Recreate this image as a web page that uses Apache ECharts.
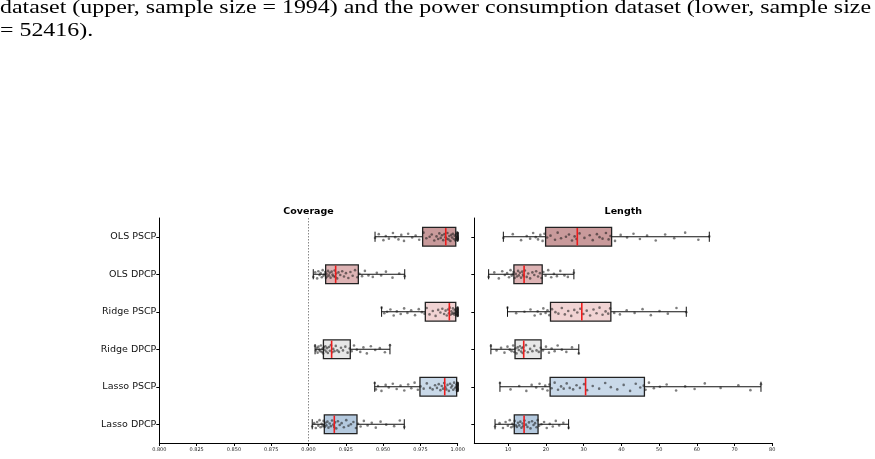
<!DOCTYPE html>
<html>
<head>
<meta charset="utf-8">
<script src="https://cdn.jsdelivr.net/npm/echarts@6/dist/echarts.min.js"></script>
<style>
html,body{margin:0;padding:0;background:#fff;}
#chart{width:875px;height:459px;}
</style>
</head>
<body>
<div id="chart"></div>
<script>
// ---------------- DATA ----------------
const CAPTION = [
  "dataset (upper, sample size = 1994) and the power consumption dataset (lower, sample size",
  "= 52416)."
];
const CATEGORIES = ["OLS PSCP", "OLS DPCP", "Ridge PSCP", "Ridge DPCP", "Lasso PSCP", "Lasso DPCP"];
const PANEL_TITLES = ["Coverage", "Length"];
const COVERAGE_TICKS = [0.800, 0.825, 0.850, 0.875, 0.900, 0.925, 0.950, 0.975, 1.000];
const LENGTH_TICKS = [10, 20, 30, 40, 50, 60, 70, 80];
const TARGET_COVERAGE = 0.9;

// box stats: [min, q1, median, q3, max]
const COVERAGE_BOXES = [
  [0.9446, 0.9765, 0.9920, 0.9987, 1.0000],
  [0.9032, 0.9115, 0.9182, 0.9334, 0.9645],
  [0.9490, 0.9783, 0.9944, 0.9987, 1.0000],
  [0.9044, 0.9100, 0.9155, 0.9280, 0.9546],
  [0.9444, 0.9747, 0.9913, 0.9993, 1.0000],
  [0.9025, 0.9106, 0.9173, 0.9325, 0.9642]
];
const LENGTH_BOXES = [
  [8.7, 19.9, 28.3, 37.4, 63.3],
  [4.8, 11.5, 14.2, 19.0, 27.4],
  [9.8, 21.2, 29.5, 37.2, 57.2],
  [5.4, 11.8, 14.1, 18.7, 28.7],
  [7.8, 21.1, 30.5, 46.1, 77.0],
  [6.5, 11.6, 14.2, 17.9, 26.0]
];

// individual observations (jittered dots)
const COV_OLS_PSCP = [0.9446,0.9471,0.9502,0.9518,0.9539,0.9566,0.9581,0.9603,0.9622,0.9640,0.9668,0.9695,0.9718,0.9742,
  0.9771,0.9790,0.9812,0.9826,0.9843,0.9858,0.9869,0.9877,0.9886,0.9895,0.9903,0.9911,0.9918,
  0.9925,0.9931,0.9938,0.9944,0.9951,0.9957,0.9962,0.9968,0.9974,0.9979,0.9984,
  0.9989,0.9992,0.9995,0.9997,0.9999,1.0,1.0,1.0,1.0,1.0,1.0,1.0,1.0,1.0,1.0,1.0,1.0];
const COV_OLS_DPCP = [0.9032,0.9045,0.9058,0.9066,0.9074,0.9081,0.9089,0.9095,0.9101,0.9108,0.9112,
  0.9117,0.9121,0.9126,0.9131,0.9137,0.9142,0.9148,0.9155,0.9161,0.9168,0.9175,0.9180,
  0.9185,0.9192,0.9201,0.9213,0.9226,0.9238,0.9251,0.9267,0.9281,0.9296,0.9312,0.9328,
  0.9341,0.9359,0.9378,0.9402,0.9431,0.9458,0.9487,0.9519,0.9563,0.9608,0.9645];
const COV_RIDGE_PSCP = [0.9490,0.9508,0.9527,0.9549,0.9571,0.9592,0.9618,0.9641,0.9663,0.9688,0.9714,0.9739,0.9760,0.9778,
  0.9792,0.9811,0.9833,0.9852,0.9869,0.9884,0.9897,0.9909,0.9919,0.9927,0.9935,0.9941,
  0.9947,0.9952,0.9958,0.9963,0.9968,0.9972,0.9976,0.9980,0.9984,0.9986,
  0.9989,0.9992,0.9995,0.9997,0.9999,1.0,1.0,1.0,1.0,1.0,1.0,1.0,1.0,1.0,1.0,1.0,1.0];
const COV_RIDGE_DPCP = [0.9044,0.9050,0.9056,0.9061,0.9067,0.9072,0.9078,0.9083,0.9089,0.9094,0.9098,
  0.9103,0.9108,0.9113,0.9119,0.9124,0.9130,0.9137,0.9143,0.9150,
  0.9159,0.9166,0.9174,0.9183,0.9193,0.9204,0.9218,0.9231,0.9247,0.9262,0.9276,
  0.9289,0.9305,0.9324,0.9347,0.9368,0.9391,0.9418,0.9447,0.9478,0.9512,0.9546];
const COV_LASSO_PSCP = [0.9444,0.9452,0.9466,0.9489,0.9517,0.9538,0.9565,0.9591,0.9617,0.9642,0.9668,0.9689,0.9711,0.9733,
  0.9751,0.9772,0.9793,0.9815,0.9832,0.9848,0.9861,0.9873,0.9884,0.9893,0.9902,0.9909,
  0.9917,0.9924,0.9932,0.9941,0.9949,0.9956,0.9963,0.9970,0.9976,0.9982,0.9988,0.9991,
  0.9994,0.9996,0.9998,1.0,1.0,1.0,1.0,1.0,1.0,1.0,1.0,1.0,1.0,1.0,1.0];
const COV_LASSO_DPCP = [0.9025,0.9038,0.9049,0.9058,0.9066,0.9074,0.9081,0.9088,0.9095,0.9101,0.9105,
  0.9109,0.9114,0.9120,0.9127,0.9134,0.9142,0.9150,0.9158,0.9166,0.9172,
  0.9178,0.9186,0.9197,0.9209,0.9222,0.9237,0.9253,0.9268,0.9284,0.9301,0.9318,
  0.9332,0.9349,0.9371,0.9396,0.9424,0.9451,0.9483,0.9521,0.9574,0.9612,0.9642];

const LEN_OLS_PSCP = [8.7,11.2,13.4,14.9,15.8,16.6,17.3,17.9,18.5,19.1,19.6,
  20.3,21.2,22.4,23.1,24.0,25.3,26.1,26.9,27.6,28.1,
  28.9,30.2,31.6,32.4,33.5,34.2,35.0,35.9,36.6,37.1,
  38.3,39.8,41.5,43.2,44.9,46.8,49.1,51.6,54.0,56.9,60.4,63.3];
const LEN_OLS_DPCP = [4.8,6.3,7.5,8.4,9.1,9.7,10.2,10.6,10.9,11.2,11.4,
  11.7,12.0,12.3,12.6,12.8,13.1,13.4,13.7,13.9,14.1,
  14.4,14.9,15.3,15.8,16.4,16.9,17.4,17.9,18.4,18.8,
  19.3,19.9,20.6,21.4,22.1,22.9,23.8,24.9,25.8,27.4];
const LEN_RIDGE_PSCP = [9.8,12.1,14.3,15.9,17.0,17.8,18.6,19.3,19.9,20.4,20.9,
  21.6,22.5,23.3,24.2,25.0,25.9,26.7,27.5,28.3,29.1,
  29.9,30.8,31.7,32.6,33.4,34.2,35.0,35.8,36.5,37.0,
  38.1,39.6,41.4,43.5,45.6,47.8,50.1,52.3,54.6,57.2];
const LEN_RIDGE_DPCP = [5.4,6.9,8.1,9.0,9.8,10.4,10.9,11.3,11.6,
  11.9,12.2,12.5,12.8,13.1,13.4,13.6,13.8,14.0,
  14.3,14.7,15.2,15.8,16.4,16.9,17.5,18.1,18.6,
  19.2,20.0,20.8,21.5,22.3,23.1,24.2,25.4,26.9,28.7];
const LEN_LASSO_PSCP = [7.8,10.6,12.9,14.8,16.2,17.4,18.3,19.1,19.8,20.4,20.9,
  21.5,22.3,23.2,24.0,24.7,25.5,26.3,27.2,28.1,29.0,30.1,
  30.9,32.4,34.1,35.7,37.2,38.9,40.6,42.3,43.8,45.0,45.9,
  46.4,47.3,48.6,50.2,52.0,54.5,56.9,59.4,62.1,66.3,71.0,74.2,77.0];
const LEN_LASSO_DPCP = [6.5,7.7,8.6,9.3,9.9,10.4,10.8,11.1,11.4,
  11.7,12.0,12.3,12.6,12.9,13.2,13.5,13.8,14.0,
  14.3,14.7,15.1,15.5,15.9,16.3,16.7,17.1,17.5,17.8,
  18.2,18.8,19.5,20.2,21.0,21.8,22.6,23.5,24.6,26.0];

const COVERAGE_POINTS = [COV_OLS_PSCP, COV_OLS_DPCP, COV_RIDGE_PSCP, COV_RIDGE_DPCP, COV_LASSO_PSCP, COV_LASSO_DPCP];
const LENGTH_POINTS = [LEN_OLS_PSCP, LEN_OLS_DPCP, LEN_RIDGE_PSCP, LEN_RIDGE_DPCP, LEN_LASSO_PSCP, LEN_LASSO_DPCP];

// ---------------- STYLE ----------------
const BOX_COLORS = ["#c99a9b", "#ddb3b4", "#f1d3d3", "#e7e7e7", "#c9d9e9", "#b4c9de"];
const JITTER = [0.03,-0.07,0.09,-0.02,0.05,-0.10,0.01,0.07,-0.05,0.11,-0.08,0.02,-0.03,0.08,-0.11,0.04,0.00,-0.06,
  0.10,-0.01,0.06,-0.09,0.03,-0.04,0.09,-0.07,0.01,0.05,-0.10,0.07,-0.02,0.11,-0.05,0.02,-0.08,0.06,-0.03,0.10,
  -0.06,0.04,-0.11,0.08,-0.01,0.05,-0.09,0.03,0.07,-0.04];

function boxRows(boxes) { return boxes.map((b, i) => [i].concat(b)); }
function pointRows(lists) {
  const out = [];
  lists.forEach((vals, i) => vals.forEach((v, k) => out.push([v, i + JITTER[(k + i * 7) % JITTER.length]])));
  return out;
}

function renderBox(params, api) {
  const y = api.value(0);
  const pMin = api.coord([api.value(1), y]);
  const pQ1 = api.coord([api.value(2), y]);
  const pQ3 = api.coord([api.value(4), y]);
  const pMax = api.coord([api.value(5), y]);
  const unit = Math.abs(api.size([0, 1])[1]);
  const bh = unit * 0.5, ch = unit * 0.27;
  const cy = pQ1[1];
  const line = { stroke: '#111', lineWidth: 1 };
  return {
    type: 'group',
    children: [
      { type: 'line', shape: { x1: pMin[0], y1: cy, x2: pQ1[0], y2: cy }, style: line },
      { type: 'line', shape: { x1: pQ3[0], y1: cy, x2: pMax[0], y2: cy }, style: line },
      { type: 'line', shape: { x1: pMin[0], y1: cy - ch / 2, x2: pMin[0], y2: cy + ch / 2 }, style: line },
      { type: 'line', shape: { x1: pMax[0], y1: cy - ch / 2, x2: pMax[0], y2: cy + ch / 2 }, style: line },
      { type: 'rect', shape: { x: pQ1[0], y: cy - bh / 2, width: pQ3[0] - pQ1[0], height: bh },
        style: { fill: BOX_COLORS[params.dataIndex], stroke: '#222', lineWidth: 1.3 } }
    ]
  };
}
function renderMedian(params, api) {
  const y = api.value(0);
  const p = api.coord([api.value(3), y]);
  const unit = Math.abs(api.size([0, 1])[1]);
  const bh = unit * 0.5;
  return { type: 'line', shape: { x1: p[0], y1: p[1] - bh / 2 + 0.7, x2: p[0], y2: p[1] + bh / 2 - 0.7 },
    style: { stroke: '#ee1c1c', lineWidth: 1.6 } };
}

// caption scale
const CAP_FONT = '19px "Liberation Serif"';
const cctx = document.createElement('canvas').getContext('2d');
cctx.font = CAP_FONT;
const capScale = 871 / cctx.measureText(CAPTION[0]).width;

const GRID_TOP = 218, GRID_H = 225;
const chart = echarts.init(document.getElementById('chart'), null, { renderer: 'canvas' });
const axisLineStyle = { show: true, onZero: false, lineStyle: { color: '#000', width: 1 } };
const xLabel = { fontSize: 5, color: '#222', margin: 4, fontFamily: 'DejaVu Sans' };
const dotStyle = { color: 'rgba(25,25,25,0.7)' };

chart.setOption({
  animation: false,
  backgroundColor: '#fff',
  graphic: [
    { type: 'text', left: 0, top: -1, scaleX: capScale, style: { text: CAPTION[0], font: CAP_FONT, fill: '#000' } },
    { type: 'text', left: 0, top: 22, scaleX: capScale, style: { text: CAPTION[1], font: CAP_FONT, fill: '#000' } },
    { type: 'text', x: 308.5, y: 211.5, style: { text: PANEL_TITLES[0], font: 'bold 9.5px "DejaVu Sans"', fill: '#000', align: 'center', verticalAlign: 'middle' } },
    { type: 'text', x: 623.3, y: 211.5, style: { text: PANEL_TITLES[1], font: 'bold 9.5px "DejaVu Sans"', fill: '#000', align: 'center', verticalAlign: 'middle' } }
  ],
  grid: [
    { left: 159.3, top: GRID_TOP, width: 298.4, height: GRID_H },
    { left: 474.3, top: GRID_TOP, width: 298, height: GRID_H }
  ],
  xAxis: [
    { type: 'value', gridIndex: 0, min: 0.8, max: 1.0, interval: 0.025,
      axisLine: axisLineStyle, axisTick: { show: true, length: 3, lineStyle: { color: '#000' } },
      splitLine: { show: false },
      axisLabel: Object.assign({ formatter: v => v.toFixed(3), customValues: COVERAGE_TICKS }, xLabel) },
    { type: 'value', gridIndex: 1, min: 1, max: 80,
      axisLine: axisLineStyle, axisTick: { show: true, length: 3, lineStyle: { color: '#000' }, customValues: LENGTH_TICKS },
      splitLine: { show: false },
      axisLabel: Object.assign({ customValues: LENGTH_TICKS }, xLabel) }
  ],
  yAxis: [
    { type: 'category', gridIndex: 0, data: CATEGORIES, inverse: true,
      axisLine: axisLineStyle, axisTick: { show: true, alignWithLabel: true, length: 3, lineStyle: { color: '#000' } },
      axisLabel: { fontSize: 9.5, color: '#111', margin: 3, fontFamily: 'DejaVu Sans' } },
    { type: 'value', gridIndex: 0, min: -0.5, max: 5.5, inverse: true, show: false },
    { type: 'category', gridIndex: 1, data: CATEGORIES, inverse: true,
      axisLine: axisLineStyle, axisTick: { show: true, alignWithLabel: true, length: 3, lineStyle: { color: '#000' } },
      axisLabel: { show: false } },
    { type: 'value', gridIndex: 1, min: -0.5, max: 5.5, inverse: true, show: false }
  ],
  series: [
    { type: 'custom', xAxisIndex: 0, yAxisIndex: 1, renderItem: renderBox, data: boxRows(COVERAGE_BOXES), z: 2, silent: true },
    { type: 'scatter', xAxisIndex: 0, yAxisIndex: 1, data: pointRows(COVERAGE_POINTS), symbol: 'circle', symbolSize: 2.6,
      itemStyle: dotStyle, z: 3, silent: true,
      markLine: { silent: true, symbol: 'none', label: { show: false },
        lineStyle: { color: '#888', type: [1.5, 1.5], width: 1 }, data: [{ xAxis: TARGET_COVERAGE }] } },
    { type: 'custom', xAxisIndex: 0, yAxisIndex: 1, renderItem: renderMedian, data: boxRows(COVERAGE_BOXES), z: 4, silent: true },
    { type: 'custom', xAxisIndex: 1, yAxisIndex: 3, renderItem: renderBox, data: boxRows(LENGTH_BOXES), z: 2, silent: true },
    { type: 'scatter', xAxisIndex: 1, yAxisIndex: 3, data: pointRows(LENGTH_POINTS), symbol: 'circle', symbolSize: 2.6,
      itemStyle: dotStyle, z: 3, silent: true },
    { type: 'custom', xAxisIndex: 1, yAxisIndex: 3, renderItem: renderMedian, data: boxRows(LENGTH_BOXES), z: 4, silent: true }
  ]
});
</script>
</body>
</html>
